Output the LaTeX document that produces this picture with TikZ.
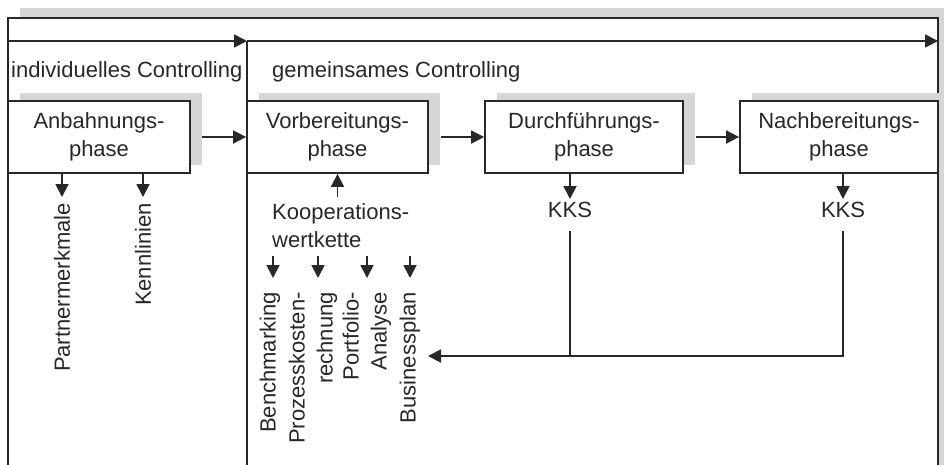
\documentclass[tikz,border=0pt]{standalone}
\usepackage{fontspec}
\setmainfont{Liberation Sans}
\usetikzlibrary{arrows.meta,shadows,calc}
\definecolor{ink}{HTML}{282828}
\definecolor{shadowgray}{HTML}{D6D6D6}
\begin{document}
\begin{tikzpicture}[x=1pt,y=-1pt,
  font=\fontsize{22}{28}\selectfont, text=ink,
  wire/.style={draw=ink,line width=1.8pt},
  arr/.style={wire,-{Triangle[length=13pt,width=13pt]}},
  phasebox/.style={wire,fill=white,rectangle,minimum height=72pt,inner sep=0pt,align=center,
     drop shadow={shadow xshift=12pt,shadow yshift=8pt,fill=shadowgray,draw=none,opacity=1}},
  txt/.style={inner sep=0pt},
  vlabel/.style={inner sep=0pt,rotate=90,anchor=east,align=right},
]
\useasboundingbox (0,0) rectangle (944,464);
\clip (0,0) rectangle (944,464);

% outer frame with its shadow
\fill[shadowgray] (20,8) rectangle (950,480);
\draw[wire,fill=white] (8,18) rectangle (938,480);

% time axis and divider between the two controlling areas
\coordinate (tl) at (8,41);
\coordinate (mid) at (247,41);
\coordinate (tr) at (938,41);
\coordinate (bot) at (247,480);
\draw[arr] (tl) -- (mid);
\draw[arr] (mid) -- (tr);
\draw[wire] (mid) -- (bot);

\node[txt,anchor=base west] (indiv) at (11,77) {individuelles Controlling};
\node[txt,anchor=base west] (gem) at (272,77) {gemeinsames Controlling};

% phases
\node[phasebox,minimum width=182pt] (anb) at (99,137) {Anbahnungs-\\phase};
\node[phasebox,minimum width=181pt] (vor) at (337.5,137) {Vorbereitungs-\\phase};
\node[phasebox,minimum width=198pt] (dur) at (584,137) {Durchführungs-\\phase};
\node[phasebox,minimum width=198pt] (nach) at (839,137) {Nachbereitungs-\\phase};

\draw[arr] ([xshift=11pt]anb.east) -- (vor.west);
\draw[arr] ([xshift=12pt]vor.east) -- (dur.west);
\draw[arr] ([xshift=12pt]dur.east) -- (nach.west);

% instruments of the individual controlling
\node[vlabel] (pm) at (62,203) {Partnermerkmale};
\node[vlabel] (kl) at (143,203) {Kennlinien};
\draw[arr] (anb.south -| pm.east) -- ([yshift=6pt]pm.east);
\draw[arr] (anb.south -| kl.east) -- ([yshift=6pt]kl.east);

% instruments of the preparation phase
\node[txt,anchor=north west,align=left] (koop) at (272,203) {Kooperations-\\wertkette};
\draw[arr] ($(koop.north -| vor.south)+(0,-6)$) -- (vor.south);

\node[vlabel] (bench) at (270,292) {Benchmarking};
\node[vlabel] (pk) at (313,292) {Prozesskosten-\\rechnung};
\node[vlabel] (pa) at (367,292) {Portfolio-\\Analyse};
\node[vlabel] (busi) at (410,292) {Businessplan};

\draw[arr] ($(koop.south -| bench.east)+(3,8)$) -- ($(bench.east)+(3,-14)$);
\draw[arr] ($(koop.south -| pk.east)+(5,8)$) -- ($(pk.east)+(5,-14)$);
\draw[arr] ($(koop.south -| pa.east)+(0,8)$) -- ($(pa.east)+(0,-14)$);
\draw[arr] ($(koop.south -| busi.east)+(0,8)$) -- ($(busi.east)+(0,-14)$);

% cooperation controlling systems, fed back to the preparation phase
\node[txt,inner sep=3pt] (kks1) at (570,210) {KKS};
\node[txt,inner sep=3pt] (kks2) at (843,210) {KKS};
\draw[arr] (dur.south -| kks1) -- (kks1.north);
\draw[arr] (nach.south -| kks2) -- (kks2.north);

\coordinate (fb) at (428,356);
\draw[wire] ($(kks1.south)+(0,10)$) -- (kks1 |- fb);
\draw[arr] ($(kks2.south)+(0,10)$) |- (fb);
\end{tikzpicture}
\end{document}
